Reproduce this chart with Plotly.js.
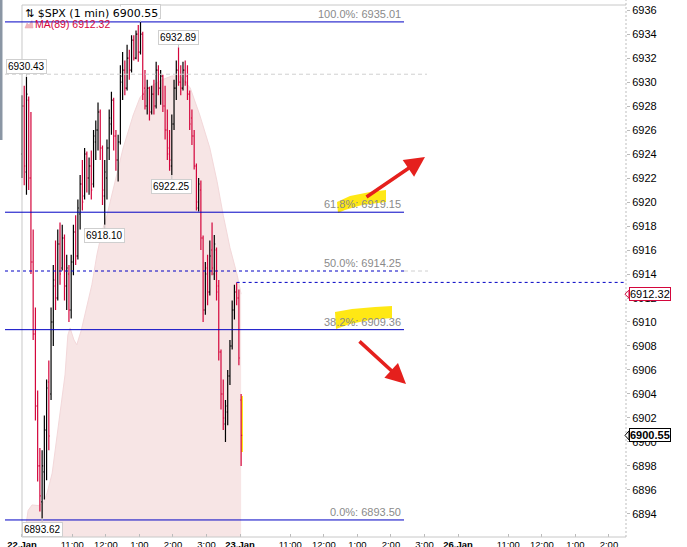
<!DOCTYPE html>
<html><head><meta charset="utf-8">
<script src="https://cdn.plot.ly/plotly-3.0.1.min.js"></script>
<style>html,body{margin:0;padding:0;background:#fff;overflow:hidden}#chart{width:687px;height:547px}</style>
</head><body><div id="chart"></div>
<script>
// ---- data (minutes after 9:30 on 22 Jan, 4-minute bars) ----
const barTime = [0,4,8,12,16,20,24,28,32,36,40,44,48,52,56,60,64,68,72,76,80,84,88,92,96,100,104,108,112,116,120,124,128,132,136,140,144,148,152,156,160,164,168,172,176,180,184,188,192,196,200,204,208,212,216,220,224,228,232,236,240,244,248,252,256,260,264,268,272,276,280,284,288,292,296,300,304,308,312,316,320,324,328,332,336,340,344,348,352,356,360,364,368,372,376,380,384,388,392];
const barOpen = [6924,6928,6922.5,6928.5,6922,6915,6909,6903,6898,6895,6897.5,6901,6905,6904,6910,6913,6912,6916.5,6914.5,6917,6913,6914,6911,6915,6917.5,6915.5,6919,6921.5,6920.5,6924,6922,6923,6921.5,6925,6926,6927.5,6924.5,6920.5,6922,6924.5,6926.5,6928.5,6925.5,6923.5,6925,6930,6931,6929.5,6932,6931,6933.5,6932,6934,6932.5,6934,6929.5,6928,6929.5,6927.5,6929,6928,6931,6929.5,6930.5,6928,6926,6924.5,6923,6926.5,6929.5,6931,6930,6929.5,6931,6930.5,6929,6927,6925.5,6923,6919.5,6921,6917,6911,6914.5,6912.5,6916,6914,6916,6913,6907.5,6904,6901.5,6902.5,6905.5,6908,6911,6912.5,6912,6903.5];
const barHigh = [6928.9,6929.7,6930.43,6928.8,6927.5,6917.7,6911.2,6904.3,6899.5,6899.3,6902.2,6905.2,6906.8,6911.2,6914.75,6916.8,6917.7,6918.3,6918.1,6917.3,6915.6,6914.75,6915.6,6918.1,6918.9,6920.2,6922.25,6923.5,6924.5,6924.2,6923.7,6924.3,6926,6926.8,6928.3,6927.7,6924.7,6923.5,6925.2,6927.7,6929.2,6928.7,6926,6925.6,6931.4,6932.5,6931.8,6933.1,6932.7,6933.9,6933.9,6934.3,6934.75,6935.01,6934.2,6931,6930.2,6929.6,6929.7,6930.2,6931.7,6931.4,6931,6930.6,6929.7,6927.7,6926,6927.3,6930.2,6931.8,6932.89,6931.4,6931.7,6931.8,6931.4,6929.3,6927.7,6926,6923.2,6922,6921.8,6917.2,6915,6915.6,6916.8,6918.3,6917.25,6916.2,6913.5,6907.7,6905.2,6903.5,6906,6908.5,6911.8,6913.1,6913.3,6912.7,6904];
const barLow = [6922,6921.4,6920.6,6921,6914,6908.5,6901.8,6896.7,6894.2,6893.62,6895.2,6896.8,6899.3,6903.5,6908,6911,6911.8,6913.1,6914.3,6911.8,6911,6910,6910.3,6913.9,6914.75,6915.2,6917.7,6919.3,6920.2,6920.8,6920.6,6920.2,6921.2,6923.5,6924.3,6923.5,6919.75,6918.10,6920.2,6923.5,6925.6,6924.3,6922.6,6921.7,6924.8,6928.5,6928.9,6929.3,6930.2,6930.8,6931.8,6931.9,6931.7,6932.3,6928.5,6927.7,6927.3,6926.8,6927.3,6927.3,6927.8,6928.9,6928.1,6927.5,6925.2,6923.5,6922.6,6922.25,6926,6928.5,6929.7,6928.9,6929.3,6929.7,6928.5,6926,6924.75,6922.7,6919.3,6919.2,6916,6910,6910.6,6911.4,6912.2,6913.9,6913.5,6911.8,6906.8,6902.7,6901,6900,6901.4,6904.75,6907.7,6910.2,6911.4,6906.4,6898];
const barClose = [6928,6923,6929,6922,6915,6909,6903,6898,6895.5,6898,6901,6904.5,6900.5,6910,6913.5,6912,6916.5,6914,6917,6913,6914.5,6911,6915,6917.5,6915.5,6919.5,6921.5,6920,6924,6922,6923,6921,6925.5,6926,6927.5,6924.5,6921,6922.5,6924.5,6927,6928.5,6925.5,6923.5,6925,6930.5,6931,6929.5,6932,6931,6933.5,6932,6934,6932.5,6934,6929,6928,6929.5,6927.5,6929,6928,6931,6929.5,6930.5,6928,6926,6924,6923.5,6926.5,6929.5,6931,6930,6929.5,6931,6930,6929,6926.5,6925.5,6923,6920,6921.5,6917,6911,6914,6912.5,6915.5,6914.5,6916.5,6912.5,6907.5,6904,6902,6903,6905.5,6908,6911,6912.5,6912,6907,6900.55];

// MA(89) outline read from the pink area
const maTime  = [4,11,18,29,38,45,54,59,64,72,77,82,86,93,98,106,115,125,134,143,152,166,181,199,211,225,251,268,283,301,318,336,349,360,372,385,392];
const maValue = [6892.1,6894.3,6894.75,6894.7,6894.9,6895.75,6897.4,6899.1,6901,6903.5,6905.6,6908.9,6909.5,6908.5,6908.1,6909.3,6911,6913.1,6915.6,6917.5,6918.9,6921.6,6924.5,6927.25,6928.7,6929.5,6930.2,6930.5,6930.5,6929.5,6927.25,6924.5,6921.7,6918.9,6916.2,6913.9,6912.32];

// Fibonacci retracement levels
const fibPct    = ['100.0%','61.8%','50.0%','38.2%','0.0%'];
const fibLevel  = [6935.01,6919.15,6914.25,6909.36,6893.50];
const prevLevel = 6930.65;   // grey dashed level
const openLevel = 6913.3;    // blue dashed level to the right

// swing labels (indices into bar arrays)
const swingHighIdx = [2,53,70];
const swingLowIdx  = [9,37,67];

// x-axis ticks
const xTickVals = [0,90,150,210,270,330,390,480,540,600,660,720,780,870,930,990,1050];
const xTickText = ['<b>22.Jan</b>','11:00','12:00','1:00','2:00','3:00','<b>23.Jan</b>','11:00','12:00','1:00','2:00','3:00','<b>26.Jan</b>','11:00','12:00','1:00','2:00'];

// ---- layout helpers (pixel -> paper) ----
const L=5,T=5,W=621,H=532;
const xMin=-30.4,xMax=1080.5,yMin=6892.08,yMax=6936.42;
const px=x=>(x-L)/W, py=y=>1-(y-T)/H;
const vPix=v=>T+(yMax-v)/(yMax-yMin)*H;
const poly=pts=>'M'+pts.map(p=>px(p[0]).toFixed(5)+','+py(p[1]).toFixed(5)).join(' L')+' Z';

const BLUE='#0000c4', RED='#d4063c', YEL='rgba(255,230,0,0.92)';
const lastClose=barClose[barClose.length-1], lastMA=maValue[maValue.length-1];

const traces=[
 {type:'scatter',mode:'lines',x:maTime,y:maValue,fill:'tozeroy',fillcolor:'#f7e5e5',
  line:{color:'#f3d8da',width:1},hoverinfo:'skip'},
 {type:'ohlc',x:barTime,open:barOpen,high:barHigh,low:barLow,close:barClose,tickwidth:0.45,
  xaxis:'x2',yaxis:'y2',
  increasing:{line:{color:'#000000',width:1.2}},decreasing:{line:{color:RED,width:1.2}},hoverinfo:'skip'}
];

const shapes=[
 // yellow marker strokes
 {type:'path',xref:'paper',yref:'paper',layer:'below',fillcolor:YEL,line:{width:0},
  path:poly([[337,202],[350,196],[370,192],[386,190],[386,202],[362,205],[345,210],[338,213]])},
 {type:'path',xref:'paper',yref:'paper',layer:'below',fillcolor:YEL,line:{width:0},
  path:poly([[335,312],[352,309],[375,307],[392,306],[392,318],[370,320],[350,324],[336,329]])},
 // frame
 {type:'line',xref:'paper',yref:'paper',x0:px(22),x1:1,y0:1,y1:1,line:{color:'#c8c8c8',width:1}},
 {type:'line',xref:'x',yref:'paper',x0:0,x1:0,y0:0,y1:1,line:{color:'#c8c8c8',width:1}},
 {type:'line',xref:'paper',yref:'paper',x0:px(22),x1:1,y0:0,y1:0,line:{color:'#c8c8c8',width:1}},
 {type:'line',xref:'paper',yref:'paper',x0:1,x1:1,y0:0,y1:py(0),line:{color:'#bdbdbd',width:1,dash:'2px,2px'}},
 {type:'rect',xref:'paper',yref:'paper',x0:px(0),x1:px(2.5),y0:py(140),y1:py(0),fillcolor:'#8a96a4',line:{width:0}},
 // levels
 {type:'line',xref:'paper',yref:'y',x0:0,x1:px(427),y0:prevLevel,y1:prevLevel,line:{color:'#d0d0d0',width:1,dash:'4px,3px'}},
 {type:'line',xref:'paper',yref:'y',x0:px(404),x1:px(428),y0:fibLevel[2],y1:fibLevel[2],line:{color:'#d0d0d0',width:1,dash:'4px,3px'}},
 {type:'line',xref:'x',yref:'y',x0:384,x1:xMax,y0:openLevel,y1:openLevel,line:{color:BLUE,width:1,dash:'3px,3px'}},
 // yellow on last bar
 {type:'rect',xref:'paper',yref:'paper',layer:'below',x0:px(239),x1:px(243),y0:py(452),y1:py(396),fillcolor:'rgba(255,232,0,0.9)',line:{width:0}},
 // MA legend icon
 {type:'path',xref:'paper',yref:'paper',fillcolor:'#f0b4bc',line:{color:'#e8a0aa',width:0.5},
  path:poly([[25,28],[27,23],[29,25],[32,20],[33,28]])},
 // price-tag notches
 {type:'path',xref:'paper',yref:'paper',fillcolor:'#fff',line:{color:RED,width:1},
  path:poly([[625,vPix(lastMA)],[629,vPix(lastMA)-4],[629,vPix(lastMA)+4]])},
 {type:'path',xref:'paper',yref:'paper',fillcolor:'#fff',line:{color:'#000',width:1},
  path:poly([[625,vPix(lastClose)],[629,vPix(lastClose)-4.5],[629,vPix(lastClose)+4.5]])}
];
fibLevel.forEach((v,i)=>{
  shapes.push({type:'line',xref:'paper',yref:'y',x0:0,x1:px(404),y0:v,y1:v,
    line:{color:BLUE,width:1,dash:i===2?'3px,3px':'solid'}});
});

const annos=[];
fibLevel.forEach((v,i)=>{
  annos.push({xref:'paper',yref:'y',x:px(403),y:v,xanchor:'right',yanchor:'bottom',yshift:0,showarrow:false,
    text:fibPct[i]+': '+v.toFixed(2),font:{family:'Liberation Sans, Arial',size:11,color:'#8a8a8a'}});
});
const lblFont={family:'Liberation Sans, Arial',size:10,color:'#000'};
swingHighIdx.forEach(i=>annos.push({x:barTime[i],y:barHigh[i],xref:'x',yref:'y',text:barHigh[i].toFixed(2),
  showarrow:true,arrowhead:0,arrowwidth:1,arrowcolor:'#c4c4c4',ax:0,ay:-10,standoff:0,
  bgcolor:'#fff',bordercolor:'#cfcfcf',borderwidth:1,borderpad:1,font:lblFont}));
swingLowIdx.forEach(i=>annos.push({x:barTime[i],y:barLow[i],xref:'x',yref:'y',text:barLow[i].toFixed(2),
  showarrow:true,arrowhead:0,arrowwidth:1,arrowcolor:'#c4c4c4',ax:0,ay:11,standoff:0,
  bgcolor:'#fff',bordercolor:'#cfcfcf',borderwidth:1,borderpad:1,font:lblFont}));
// title + legend
annos.push({xref:'paper',yref:'paper',x:px(24),y:py(13),xanchor:'left',yanchor:'middle',showarrow:false,
  text:'⇅ $SPX (1 min) '+lastClose.toFixed(2),bgcolor:'#fff',borderpad:0,
  font:{family:'DejaVu Sans',size:11,color:'#000'}});
annos.push({xref:'paper',yref:'paper',x:px(33),y:py(24),xanchor:'left',yanchor:'middle',showarrow:false,
  text:'MA(89) '+lastMA.toFixed(2),font:{family:'Liberation Sans, Arial',size:10.5,color:RED}});
// price tags on right axis
annos.push({xref:'paper',yref:'y',x:1,y:lastMA,xanchor:'left',yanchor:'middle',xshift:3,showarrow:false,
  text:lastMA.toFixed(2),bgcolor:'#fff',bordercolor:RED,borderwidth:1,borderpad:0,
  font:{family:'Liberation Sans, Arial',size:11,color:'#000'}});
annos.push({xref:'paper',yref:'y',x:1,y:lastClose,xanchor:'left',yanchor:'middle',xshift:3,showarrow:false,
  text:'<b>'+lastClose.toFixed(2)+'</b>',bgcolor:'#fff',bordercolor:'#000',borderwidth:1,borderpad:0,
  font:{family:'Liberation Sans, Arial',size:11,color:'#000'}});
// red arrows
annos.push({xref:'paper',yref:'paper',x:px(425),y:py(157),ax:-60,ay:41,text:'',showarrow:true,
  arrowhead:2,arrowsize:1.15,arrowwidth:3.5,arrowcolor:'#e5201d',standoff:0});
annos.push({xref:'paper',yref:'paper',x:px(406),y:py(384),ax:-48,ay:-44,text:'',showarrow:true,
  arrowhead:2,arrowsize:1.15,arrowwidth:3.5,arrowcolor:'#e5201d',standoff:0});

const layout={
  width:687,height:547,margin:{l:L,r:687-L-W,t:T,b:547-T-H},
  paper_bgcolor:'#fff',plot_bgcolor:'#fff',showlegend:false,hovermode:false,dragmode:false,
  xaxis:{range:[xMin,xMax],tickvals:xTickVals,ticktext:xTickText,showgrid:false,zeroline:false,
    showline:false,ticks:'inside',ticklen:3,tickcolor:'#bbb',rangeslider:{visible:false},
    tickfont:{family:'Liberation Sans, Arial',size:9.5,color:'#000'},fixedrange:true},
  yaxis:{range:[yMin,yMax],side:'right',dtick:2,tick0:6894,showgrid:false,zeroline:false,showline:false,
    ticks:'outside',ticklen:3,tickcolor:'#bbb',tickfont:{family:'Liberation Sans, Arial',size:11,color:'#000'},fixedrange:true},
  xaxis2:{overlaying:'x',range:[xMin,xMax],visible:false,rangeslider:{visible:false},fixedrange:true},
  yaxis2:{overlaying:'y',range:[yMin,yMax],visible:false,fixedrange:true},
  shapes:shapes,annotations:annos
};
Plotly.newPlot('chart',traces,layout,{staticPlot:true,displayModeBar:false});
</script></body></html>
